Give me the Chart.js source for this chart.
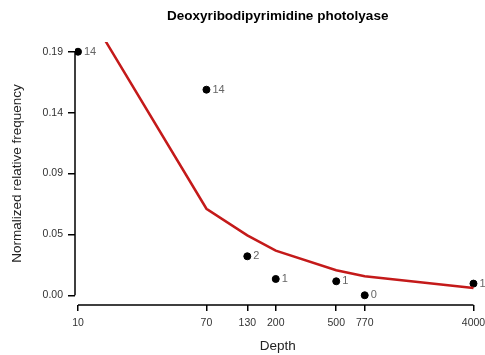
<!DOCTYPE html>
<html>
<head>
<meta charset="utf-8">
<script src="https://cdn.jsdelivr.net/npm/chart.js@4.4.1/dist/chart.umd.min.js"></script>
<style>
  html, body { margin: 0; padding: 0; background: #fff; overflow: hidden; }
  #wrap { width: 485px; height: 355px; }
</style>
</head>
<body>
<div id="wrap"><canvas id="chart"></canvas></div>
<script>
// Data
const depths = [10, 70, 130, 200, 500, 770, 4000];
const observedFreq = [0.19, 0.1604, 0.0304, 0.0127, 0.0109, 0, 0.0091];
const pointCounts = ['14', '14', '2', '1', '1', '0', '1'];
const fittedFreq = [0.234, 0.0675, 0.0467, 0.0348, 0.0195, 0.0148, 0.0057];
const xTicks = [10, 70, 130, 200, 500, 770, 4000];
const yTicks = [0, 0.0475, 0.095, 0.1425, 0.19];
const yTickLabels = ['0.00', '0.05', '0.09', '0.14', '0.19'];

const FONT = "'Liberation Sans', Arial, Helvetica, sans-serif";

// R-style axis lines, only spanning first..last tick
const axisLines = {
  id: 'axisLines',
  afterDraw(chart) {
    const { ctx, chartArea, scales } = chart;
    const x = scales.x, y = scales.y;
    ctx.save();
    ctx.strokeStyle = '#000';
    ctx.lineWidth = 1.5;
    ctx.beginPath();
    ctx.moveTo(x.getPixelForValue(xTicks[0]), chartArea.bottom);
    ctx.lineTo(x.getPixelForValue(xTicks[xTicks.length - 1]), chartArea.bottom);
    ctx.moveTo(chartArea.left, y.getPixelForValue(yTicks[0]));
    ctx.lineTo(chartArea.left, y.getPixelForValue(yTicks[yTicks.length - 1]));
    ctx.stroke();
    ctx.restore();
  }
};

// count labels to the right of each point
const pointLabels = {
  id: 'pointLabels',
  afterDatasetsDraw(chart) {
    const { ctx } = chart;
    const meta = chart.getDatasetMeta(1);
    ctx.save();
    ctx.font = '11px ' + FONT;
    ctx.fillStyle = '#666';
    ctx.textAlign = 'left';
    ctx.textBaseline = 'middle';
    meta.data.forEach((pt, i) => {
      ctx.fillText(pointCounts[i], pt.x + 6, pt.y);
    });
    ctx.restore();
  }
};

new Chart(document.getElementById('chart'), {
  type: 'line',
  data: {
    datasets: [
      {
        label: 'fit',
        data: depths.map((d, i) => ({ x: d, y: fittedFreq[i] })),
        borderColor: '#c41a1a',
        borderWidth: 2.5,
        pointRadius: 0,
        fill: false,
        tension: 0
      },
      {
        label: 'observed',
        type: 'scatter',
        data: depths.map((d, i) => ({ x: d, y: observedFreq[i] })),
        backgroundColor: '#000',
        borderColor: '#000',
        pointRadius: 3.5,
        pointHoverRadius: 3.5
      }
    ]
  },
  options: {
    responsive: true,
    maintainAspectRatio: false,
    animation: false,
    events: [],
    layout: { padding: 0 },
    plugins: {
      legend: { display: false },
      tooltip: { enabled: false },
      title: {
        display: true,
        text: 'Deoxyribodipyrimidine photolyase',
        fullSize: false,
        color: '#000',
        font: { family: FONT, size: 13.5, weight: 'bold' },
        padding: { top: 8.6, bottom: 17.2 }
      }
    },
    scales: {
      x: {
        type: 'logarithmic',
        min: 9.555,
        max: 4449,
        afterBuildTicks: s => { s.ticks = xTicks.map(v => ({ value: v })); },
        afterFit: s => { s.height = 50; s.paddingLeft = 0; s.paddingRight = 0; },
        grid: { drawOnChartArea: false, drawTicks: true, tickLength: 6, color: '#000', lineWidth: 1.5 },
        border: { display: false },
        ticks: {
          autoSkip: false,
          maxRotation: 0,
          padding: 6,
          color: '#333',
          font: { family: FONT, size: 10.5 },
          callback: (v, i) => String(xTicks[i])
        },
        title: {
          display: true,
          text: 'Depth',
          color: '#222',
          font: { family: FONT, size: 13.5 },
          padding: { top: 0, bottom: 1 }
        }
      },
      y: {
        min: -0.0076,
        max: 0.1976,
        afterBuildTicks: s => { s.ticks = yTicks.map(v => ({ value: v })); },
        afterFit: s => { s.width = 75; s.paddingTop = 0; s.paddingBottom = 0; },
        grid: { drawOnChartArea: false, drawTicks: true, tickLength: 7, color: '#000', lineWidth: 1.5 },
        border: { display: false },
        ticks: {
          padding: 5,
          color: '#333',
          font: { family: FONT, size: 10.5 },
          callback: (v, i) => yTickLabels[i]
        },
        title: {
          display: true,
          text: 'Normalized relative frequency',
          color: '#222',
          font: { family: FONT, size: 13.5 },
          padding: { top: 9.4, bottom: 0 }
        }
      }
    }
  },
  plugins: [axisLines, pointLabels]
});
</script>
</body>
</html>
